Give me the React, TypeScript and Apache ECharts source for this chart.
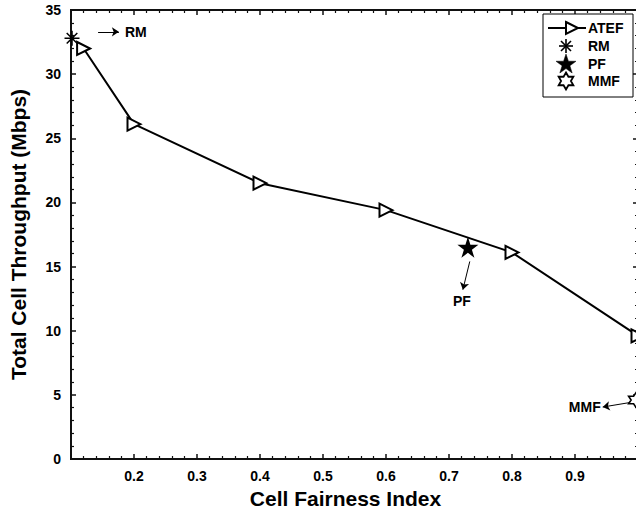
import React, { useEffect, useRef } from "react";
import * as echarts from "echarts";

// ---- data ----
const atefX = [0.12, 0.2, 0.4, 0.6, 0.8, 1.0];
const atefY = [32.0, 26.1, 21.5, 19.4, 16.1, 9.6];
const rmPoint = [0.1016, 32.8];
const pfPoint = [0.73, 16.5];
const mmfPoint = [0.997, 4.6];
const rmArrow = [[0.143, 33.3], [0.176, 33.3]];
const pfArrow = [[0.733, 15.4], [0.722, 13.2]];
const mmfArrow = [[0.987, 4.4], [0.944, 4.05]];
const legendNames = ["ATEF", "RM", "PF", "MMF"];
const xMin = 0.1, xMax = 1.0, xStep = 0.1;
const yMin = 0, yMax = 35, yStep = 5;
const xTitle = "Cell Fairness Index";
const yTitle = "Total Cell Throughput (Mbps)";

const FONT = "'Liberation Sans', Arial, Helvetica, sans-serif";
const INK = "#111111";

const ASTERISK =
  "path://M0 45L100 45L100 55L0 55Z M45 0L55 0L55 100L45 100Z " +
  "M18.18 11.11L88.89 81.82L81.82 88.89L11.11 18.18Z " +
  "M11.11 81.82L81.82 11.11L88.89 18.18L18.18 88.89Z";
const STAR5 =
  "path://M50 0L61.23 34.55L97.55 34.55L68.16 55.9L79.39 90.45L50 69.1L20.61 90.45L31.84 55.9L2.45 34.55L38.77 34.55Z";
const HEXAGRAM =
  "path://M50 0L64.43 25L93.3 25L78.87 50L93.3 75L64.43 75L50 100L35.57 75L6.7 75L21.13 50L6.7 25L35.57 25Z";

const labelFont = { fontFamily: FONT, fontWeight: "bold" as const, fontSize: 14, color: "#000" };

function arrowMark(from: number[], to: number[], text: string, distance: number) {
  return {
    silent: true,
    symbol: ["none", "arrow"],
    symbolSize: 7,
    lineStyle: { color: "#000", width: 1, type: "solid", opacity: 1 },
    label: { show: true, position: "end", formatter: text, distance, ...labelFont },
    data: [[{ coord: from }, { coord: to }]],
  };
}

function axisParts() {
  return {
    axisLine: { show: true, onZero: false, lineStyle: { color: INK, width: 2 } },
    axisTick: { show: true, inside: true, length: 5, lineStyle: { color: INK, width: 1.5 } },
    minorTick: { show: true, splitNumber: 5, length: 3, lineStyle: { color: INK, width: 1.2 } },
    splitLine: { show: false },
  };
}

// star-like polygon points around a centre (geometry helper for legend icons)
function starPoints(cx: number, cy: number, n: number, R: number, r: number) {
  const pts: number[][] = [];
  for (let k = 0; k < 2 * n; k++) {
    const a = -Math.PI / 2 + (k * Math.PI) / n;
    const rad = k % 2 === 0 ? R : r;
    pts.push([cx + rad * Math.cos(a), cy + rad * Math.sin(a)]);
  }
  return pts;
}

function buildLegend() {
  const boxX = 543, boxY = 14, boxW = 90, boxH = 83;
  const rowY = [28, 46, 63.5, 81];
  const iconX = 566;
  const textX = 588;
  const els: any[] = [
    {
      type: "rect",
      shape: { x: boxX, y: boxY, width: boxW, height: boxH },
      style: { fill: "#fff", stroke: "#000", lineWidth: 1 },
      z: 100,
    },
  ];
  els.push({
    type: "line",
    shape: { x1: 548, y1: rowY[0], x2: 586, y2: rowY[0] },
    style: { stroke: "#000", lineWidth: 2 },
    z: 101,
  });
  els.push({
    type: "polygon",
    shape: { points: [[566, rowY[0] - 6], [578, rowY[0]], [566, rowY[0] + 6]] },
    style: { fill: "#fff", stroke: "#000", lineWidth: 2 },
    z: 102,
  });
  const a = 7, d = 5;
  const cy1 = rowY[1];
  [
    [iconX - a, cy1, iconX + a, cy1],
    [iconX, cy1 - a, iconX, cy1 + a],
    [iconX - d, cy1 - d, iconX + d, cy1 + d],
    [iconX - d, cy1 + d, iconX + d, cy1 - d],
  ].forEach(([x1, y1, x2, y2]) =>
    els.push({
      type: "line",
      shape: { x1, y1, x2, y2 },
      style: { stroke: "#000", lineWidth: 1.6 },
      z: 101,
    })
  );
  els.push({
    type: "polygon",
    shape: { points: starPoints(iconX, rowY[2] + 1, 5, 10.5, 4.1) },
    style: { fill: "#000", stroke: "#000", lineWidth: 0.5 },
    z: 101,
  });
  els.push({
    type: "polygon",
    shape: { points: starPoints(iconX, rowY[3], 6, 8.5, 8.5 / Math.sqrt(3)) },
    style: { fill: "#fff", stroke: "#000", lineWidth: 1.8 },
    z: 101,
  });
  legendNames.forEach((name, i) =>
    els.push({
      type: "text",
      x: textX,
      y: rowY[i],
      style: {
        text: name,
        fill: "#000",
        font: `bold 14px ${FONT}`,
        textAlign: "left",
        textVerticalAlign: "middle",
      },
      z: 101,
    })
  );
  return els;
}

export default function App() {
  const ref = useRef<HTMLDivElement>(null);
  useEffect(() => {
    if (!ref.current) return;
    const chart = echarts.init(ref.current, undefined, { renderer: "svg" });
    const option: any = {
      animation: false,
      grid: {
        left: 71,
        right: 22,
        top: 10,
        bottom: 57,
        show: true,
        borderColor: INK,
        borderWidth: 2,
        backgroundColor: "rgba(0,0,0,0)",
      },
      graphic: buildLegend(),
      xAxis: [
        {
          type: "value",
          min: xMin,
          max: xMax,
          interval: xStep,
          position: "bottom",
          ...axisParts(),
          axisLabel: {
            ...labelFont,
            margin: 10,
            formatter: (v: number) =>
              Math.abs(v - xMin) < 1e-6 || Math.abs(v - xMax) < 1e-6 ? "" : v.toFixed(1),
          },
          name: xTitle,
          nameLocation: "middle",
          nameGap: 27,
          nameTextStyle: {
            fontFamily: FONT,
            fontWeight: "bold",
            fontSize: 21,
            color: "#000",
            padding: [0, 18, 0, 0],
          },
        },
        {
          type: "value",
          min: xMin,
          max: xMax,
          interval: xStep,
          position: "top",
          ...axisParts(),
          axisLabel: { show: true, formatter: () => "" },
        },
      ],
      yAxis: [
        {
          type: "value",
          min: yMin,
          max: yMax,
          interval: yStep,
          position: "left",
          ...axisParts(),
          axisLabel: { ...labelFont, margin: 10 },
          name: yTitle,
          nameLocation: "middle",
          nameGap: 42,
          nameTextStyle: { fontFamily: FONT, fontWeight: "bold", fontSize: 21, color: "#000" },
        },
        {
          type: "value",
          min: yMin,
          max: yMax,
          interval: yStep,
          position: "right",
          ...axisParts(),
          axisLabel: { show: true, formatter: () => "" },
        },
      ],
      series: [
        {
          name: "PF",
          type: "scatter",
          data: [pfPoint],
          symbol: STAR5,
          symbolSize: 21,
          itemStyle: { color: "#000", opacity: 1 },
          markLine: arrowMark(pfArrow[0], pfArrow[1], "PF", 4),
        },
        {
          name: "RM",
          type: "scatter",
          data: [rmPoint],
          symbol: ASTERISK,
          symbolSize: 15,
          itemStyle: { color: "#000", opacity: 1 },
          markLine: arrowMark(rmArrow[0], rmArrow[1], "RM", 6),
        },
        {
          name: "MMF",
          type: "scatter",
          data: [mmfPoint],
          symbol: HEXAGRAM,
          symbolSize: 15,
          itemStyle: { color: "#fff", borderColor: "#000", borderWidth: 1.6, opacity: 1 },
          markLine: arrowMark(mmfArrow[0], mmfArrow[1], "MMF", 2),
        },
        {
          name: "ATEF",
          type: "line",
          data: atefX.map((x, i) => [x, atefY[i]]),
          symbol: "emptyTriangle",
          symbolSize: 13,
          symbolRotate: -90,
          showAllSymbol: true,
          lineStyle: { color: "#000", width: 2 },
          itemStyle: { color: "#000", borderWidth: 2 },
          z: 3,
        },
      ],
    };
    chart.setOption(option);
    return () => chart.dispose();
  }, []);
  return (
    <div
      style={{
        position: "fixed",
        left: 0,
        top: 0,
        width: 636,
        height: 516,
        overflow: "hidden",
        background: "#fff",
      }}
    >
      <div ref={ref} style={{ width: 660, height: 516 }} />
    </div>
  );
}
